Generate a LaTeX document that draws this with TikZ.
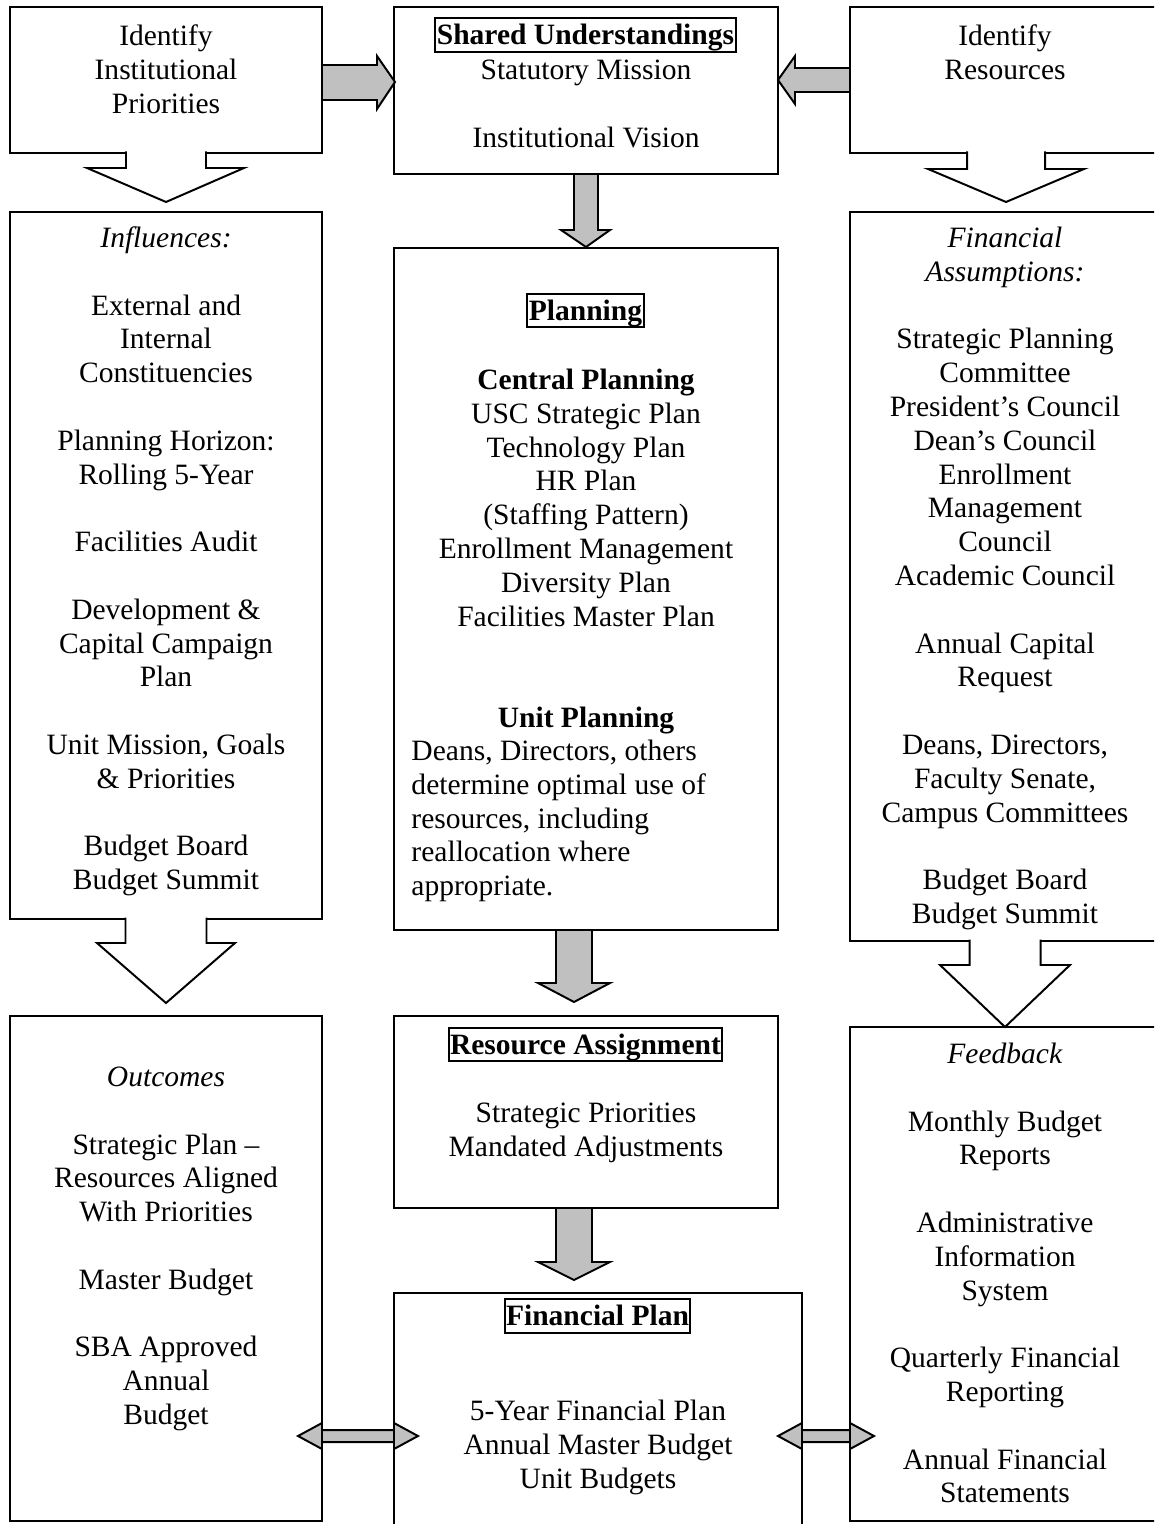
\documentclass[tikz,border=0pt]{standalone}
\usepackage{fontspec}
\setmainfont{Liberation Serif}
\usepackage{xcolor}
\usepackage{tikz}
\usetikzlibrary{calc,fit}
\definecolor{blockgray}{HTML}{C0C0C0}
\pgfdeclarelayer{bg}
\pgfsetlayers{bg,main}

\begin{document}
\begin{tikzpicture}[
    x=0.4065pt, y=-0.4065pt,
    every node/.style={font=\fontsize{12}{13.74}\selectfont},
    box/.style={draw, line width=0.8pt, inner sep=0pt, outer sep=0pt},
    txt/.style={anchor=north, inner sep=0pt, align=center},
    heading/.style={
      draw, line width=0.8pt, font=\fontsize{12}{13.74}\selectfont\bfseries,
      inner xsep=0.6pt, inner ysep=0pt, text height=10.8pt, text depth=2.9pt,
    },
    grayarrow/.style={draw, line width=0.8pt, fill=blockgray},
    openarrow/.style={draw, line width=0.8pt, fill=white},
  ]
  \useasboundingbox (0,0) rectangle (1154,1524);
  \clip (0,0) rectangle (1154,1524);

  % Top row
  \node[box, fit={(10,7) (322,153)}]   (ident)  {};
  \node[box, fit={(394,7) (778,174)}]  (shared) {};
  \node[box, fit={(850,7) (1160,153)}] (res)    {};

  \node[txt] (identTxt) at (166,21.3) {\strut Identify\\Institutional\\Priorities};
  \node[heading] (sharedHd) at (585.5,35) {Shared Understandings};
  \node[txt] (sharedTxt) at (586,55.3) {\strut Statutory Mission\\[\baselineskip]Institutional Vision};
  \node[txt] (resTxt) at (1005,21.3) {\strut Identify\\Resources};

  % Middle row
  \node[box, fit={(10,212) (322,919)}]   (infl)   {};
  \node[box, fit={(394,248) (778,930)}]  (plan)   {};
  \node[box, fit={(850,212) (1160,941)}] (assump) {};

  \node[txt] (inflTxt) at (166,223.3) {\strut\textit{Influences:}\\[\baselineskip]
    External and\\Internal\\Constituencies\\[\baselineskip]
    Planning Horizon:\\Rolling 5-Year\\[\baselineskip]
    Facilities Audit\\[\baselineskip]
    Development \&\\Capital Campaign\\Plan\\[\baselineskip]
    Unit Mission, Goals\\\& Priorities\\[\baselineskip]
    Budget Board\\Budget Summit};

  \node[heading] (planHd) at (585.5,310.5) {Planning};
  \node[txt] (planTxt) at (586,365.3) {\strut\textbf{Central Planning}\\
    USC Strategic Plan\\Technology Plan\\HR Plan\\(Staffing Pattern)\\
    Enrollment Management\\Diversity Plan\\Facilities Master Plan\\[2\baselineskip]
    \textbf{Unit Planning}};
  \node[txt, anchor=north west, align=left] (planUnit) at (411,736.3) {\strut Deans, Directors, others\\
    determine optimal use of\\resources, including\\reallocation where\\appropriate.};

  \node[txt] (assumpTxt) at (1005,223.3) {\strut\textit{Financial}\\\textit{Assumptions:}\\[\baselineskip]
    Strategic Planning\\Committee\\President’s Council\\Dean’s Council\\
    Enrollment\\Management\\Council\\Academic Council\\[\baselineskip]
    Annual Capital\\Request\\[\baselineskip]
    Deans, Directors,\\Faculty Senate,\\Campus Committees\\[\baselineskip]
    Budget Board\\Budget Summit};

  % Bottom row
  \node[box, fit={(10,1016) (322,1521)}]   (outc)  {};
  \node[box, fit={(394,1016) (778,1208)}]  (ra)    {};
  \node[box, fit={(394,1293) (802,1540)}]  (fplan) {};
  \node[box, fit={(850,1027) (1160,1521)}] (feedb) {};

  \node[txt] (outcTxt) at (166,1062.3) {\strut\textit{Outcomes}\\[\baselineskip]
    Strategic Plan --\\Resources Aligned\\With Priorities\\[\baselineskip]
    Master Budget\\[\baselineskip]
    SBA Approved\\Annual\\Budget};

  \node[heading] (raHd) at (585.5,1044.5) {Resource Assignment};
  \node[txt] (raTxt) at (586,1098.3) {\strut Strategic Priorities\\Mandated Adjustments};

  \node[heading] (fplanHd) at (597.5,1316) {Financial Plan};
  \node[txt] (fplanTxt) at (598,1396.3) {\strut 5-Year Financial Plan\\Annual Master Budget\\Unit Budgets};

  \node[txt] (feedbTxt) at (1005,1039.3) {\strut\textit{Feedback}\\[\baselineskip]
    Monthly Budget\\Reports\\[\baselineskip]
    Administrative\\Information\\System\\[\baselineskip]
    Quarterly Financial\\Reporting\\[\baselineskip]
    Annual Financial\\Statements};

  % Gray block arrows into the centre column
  \draw[grayarrow] ($(ident.east)+(0,-15)$) -- ++(55,0) -- ++(0,-9) -- ++(18,26)
    -- ++(-18,27) -- ++(0,-9) -- ++(-55,0) -- cycle;
  \draw[grayarrow] ($(res.west)+(0,-12)$) -- ++(-55,0) -- ++(0,-12) -- ++(-17,24)
    -- ++(17,24) -- ++(0,-12) -- ++(55,0) -- cycle;
  \draw[grayarrow] ($(shared.south)+(-12,0)$) -- ++(0,56) -- ++(-13,0) -- ++(25,17)
    -- ++(24,-17) -- ++(-12,0) -- ++(0,-56) -- cycle;
  \draw[grayarrow] ($(plan.south)+(-30,0)$) -- ++(0,53) -- ++(-18,0) -- ++(36,19)
    -- ++(36,-19) -- ++(-18,0) -- ++(0,-53) -- cycle;
  \draw[grayarrow] ($(ra.south)+(-30,0)$) -- ++(0,54) -- ++(-18,0) -- ++(36,18)
    -- ++(36,-18) -- ++(-18,0) -- ++(0,-54) -- cycle;

  % Open arrows down the side columns
  \draw[openarrow] ($(ident.south)+(-40,-1.5)$) -- ++(0,16.5) -- ++(-39,0) -- ++(79,34)
    -- ++(78,-34) -- ++(-38,0) -- ++(0,-16.5);
  \draw[openarrow] ($(res.south)+(-38,-1.5)$) -- ++(0,17.5) -- ++(-39,0) -- ++(78,33)
    -- ++(78,-33) -- ++(-39,0) -- ++(0,-17.5);
  \draw[openarrow] ($(infl.south)+(-40.5,-1.5)$) -- ++(0,25.5) -- ++(-28.5,0) -- ++(69,60)
    -- ++(69,-60) -- ++(-28.5,0) -- ++(0,-25.5);
  \draw[openarrow] ($(assump.south)+(-35.5,-1.5)$) -- ++(0,25.5) -- ++(-29.5,0) -- ++(65,62)
    -- ++(65,-62) -- ++(-29.5,0) -- ++(0,-25.5);

  % Two-way arrows, under the box edges
  \begin{pgfonlayer}{bg}
    \draw[grayarrow] ($(outc.east)+(-24,167.5)$) -- ++(24,-13) -- ++(0,7) -- ++(72,0)
      -- ++(0,-7) -- ++(24,13) -- ++(-24,13) -- ++(0,-7) -- ++(-72,0) -- ++(0,7) -- cycle;
    \draw[grayarrow] ($(feedb.west)+(-72,162)$) -- ++(24,-13) -- ++(0,7) -- ++(48,0)
      -- ++(0,-7) -- ++(24,13) -- ++(-24,13) -- ++(0,-7) -- ++(-48,0) -- ++(0,7) -- cycle;
  \end{pgfonlayer}

\end{tikzpicture}
\end{document}
